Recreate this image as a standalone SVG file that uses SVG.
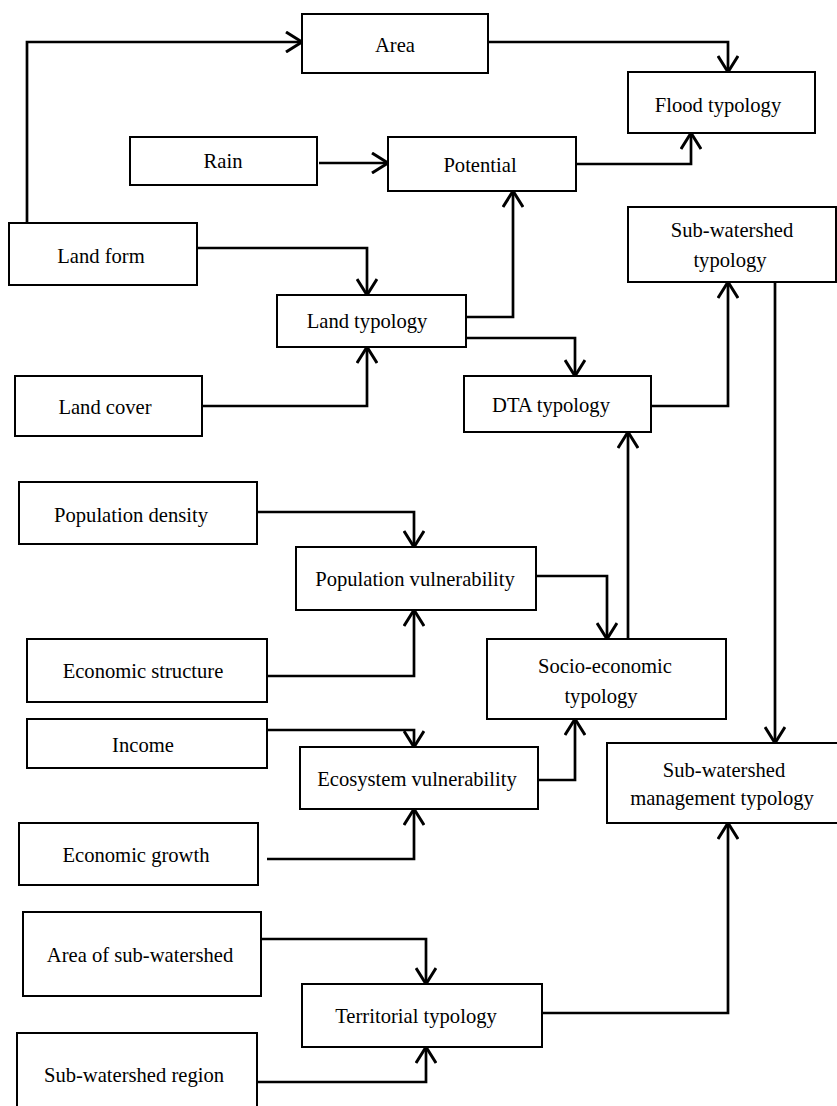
<svg xmlns="http://www.w3.org/2000/svg" width="837" height="1106" viewBox="0 0 837 1106">
<style>
.box{fill:#fff;stroke:#000;stroke-width:2}
.t{font-family:'Liberation Serif','Times New Roman',Tinos,'DejaVu Serif',serif;font-size:20.6px;fill:#000;text-anchor:middle}
.c{fill:none;stroke:#000;stroke-width:2.7;marker-end:url(#arr)}
</style>
<defs>
<marker id="arr" viewBox="0 0 20 22" refX="18" refY="11" markerWidth="20" markerHeight="22" markerUnits="userSpaceOnUse" orient="auto">
<path d="M2,1 L18,11 L2,21" fill="none" stroke="#000" stroke-width="3"/>
</marker>
</defs>
<rect width="837" height="1106" fill="#fff"/>
<g id="connectors">
<path class="c" d="M27,223 V42 H302"/>
<path class="c" d="M488,42 H728 V72"/>
<path class="c" d="M319,163 H388"/>
<path class="c" d="M576,164 H691 V133"/>
<path class="c" d="M197,248 H367 V295"/>
<path class="c" d="M202,406 H367 V347"/>
<path class="c" d="M466,317 H513 V191"/>
<path class="c" d="M466,338 H575 V376"/>
<path class="c" d="M651,406 H728 V282"/>
<path class="c" d="M775,282 V743"/>
<path class="c" d="M628,639 V432"/>
<path class="c" d="M257,512 H414 V547"/>
<path class="c" d="M267,676 H414 V610"/>
<path class="c" d="M536,576 H607 V639"/>
<path class="c" d="M267,730 H414 V747"/>
<path class="c" d="M267,859 H414 V809"/>
<path class="c" d="M538,780 H575 V719"/>
<path class="c" d="M261,939 H426 V984"/>
<path class="c" d="M257,1082 H426 V1047"/>
<path class="c" d="M542,1013 H728 V823"/>
</g>
<g id="area"><rect class="box" x="302" y="14" width="186" height="59"/><text class="t" x="395" y="52">Area</text></g>
<g id="flood"><rect class="box" x="628" y="72" width="187" height="61"/><text class="t" x="718" y="112">Flood typology</text></g>
<g id="rain"><rect class="box" x="130" y="137" width="187" height="48"/><text class="t" x="223" y="168">Rain</text></g>
<g id="potential"><rect class="box" x="388" y="137" width="188" height="54"/><text class="t" x="480" y="172">Potential</text></g>
<g id="subwatershed-typology"><rect class="box" x="628" y="207" width="208" height="75"/><text class="t" x="732" y="237">Sub-watershed</text><text class="t" x="730" y="267">typology</text></g>
<g id="landform"><rect class="box" x="9" y="223" width="188" height="62"/><text class="t" x="101" y="263">Land form</text></g>
<g id="landtypology"><rect class="box" x="277" y="295" width="189" height="52"/><text class="t" x="367" y="328">Land typology</text></g>
<g id="landcover"><rect class="box" x="15" y="376" width="187" height="60"/><text class="t" x="105" y="414">Land cover</text></g>
<g id="dta"><rect class="box" x="464" y="376" width="187" height="56"/><text class="t" x="551" y="412">DTA typology</text></g>
<g id="popdensity"><rect class="box" x="19" y="482" width="238" height="62"/><text class="t" x="131" y="522">Population density</text></g>
<g id="popvuln"><rect class="box" x="296" y="547" width="240" height="63"/><text class="t" x="415" y="586">Population vulnerability</text></g>
<g id="socio"><rect class="box" x="487" y="639" width="239" height="80"/><text class="t" x="605" y="673">Socio-economic</text><text class="t" x="601" y="703">typology</text></g>
<g id="econstructure"><rect class="box" x="27" y="639" width="240" height="63"/><text class="t" x="143" y="678">Economic structure</text></g>
<g id="income"><rect class="box" x="27" y="719" width="240" height="49"/><text class="t" x="143" y="752">Income</text></g>
<g id="mgmt"><rect class="box" x="607" y="743" width="235" height="80"/><text class="t" x="724" y="777">Sub-watershed</text><text class="t" x="722" y="805">management typology</text></g>
<g id="ecovuln"><rect class="box" x="300" y="747" width="238" height="62"/><text class="t" x="417" y="786">Ecosystem vulnerability</text></g>
<g id="econgrowth"><rect class="box" x="19" y="823" width="239" height="62"/><text class="t" x="136" y="862">Economic growth</text></g>
<g id="areasub"><rect class="box" x="23" y="912" width="238" height="84"/><text class="t" x="140" y="962">Area of sub-watershed</text></g>
<g id="territorial"><rect class="box" x="302" y="984" width="240" height="63"/><text class="t" x="416" y="1023">Territorial typology</text></g>
<g id="subregion"><rect class="box" x="17" y="1033" width="240" height="80"/><text class="t" x="134" y="1082">Sub-watershed region</text></g>
</svg>
